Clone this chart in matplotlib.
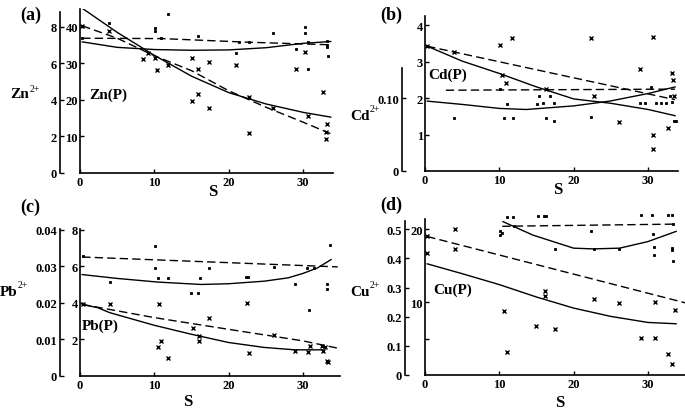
import matplotlib
matplotlib.use("Agg")
import matplotlib.pyplot as plt

plt.rcParams['font.family'] = ['Liberation Serif', 'DejaVu Serif']

W, H = 685, 414

# ---------------- (a) Zn ----------------
# Zn2+ (outer axis), Zn(P) (inner axis)
zn_ion_fit_s = [0.3, 5, 10, 15, 20, 25, 30, 33.7]
zn_ion_fit = [7.18, 6.88, 6.76, 6.72, 6.74, 6.86, 7.10, 7.20]
zn_ion_mix_s = [0.3, 11, 22.7, 33.7]
zn_ion_mix = [7.38, 7.36, 7.16, 7.02]
zn_ion_pts_s = [0.3, 3.9, 10.1, 10.1, 11.8, 10.9, 15.9, 21.4, 22.7, 26.0, 29.0,
                30.3, 30.3, 30.7, 30.6, 33.2, 33.2, 33.3, 21.0, 33.2]
zn_ion_pts = [7.38, 8.22, 7.92, 7.76, 8.68, 7.38, 7.48, 7.16, 7.16, 7.66, 6.8,
              7.98, 7.66, 7.18, 5.72, 7.24, 7.02, 6.42, 6.56, 6.9]

zn_p_fit_s = [0.3, 5, 10, 15, 20, 25, 30, 33.7]
zn_p_fit = [45.1, 38.5, 32.2, 26.5, 22.0, 18.9, 16.6, 15.3]
zn_p_mix_s = [0.3, 5, 10, 15, 20, 25, 30, 34.1]
zn_p_mix = [40.3, 36.9, 32.1, 28.0, 22.5, 18.0, 13.9, 10.4]
zn_p_pts_s = [0.3, 3.9, 8.5, 9.2, 10.1, 10.4, 11.8, 15.0, 15.9, 17.4, 15.0, 15.9,
              17.4, 21.0, 22.7, 22.7, 26.0, 29.0, 30.3, 30.6, 32.6, 33.2, 33.0, 33.0]
zn_p_pts = [40.3, 39.0, 31.2, 32.8, 31.5, 28.2, 29.6, 31.4, 28.6, 30.5, 19.8, 21.7,
            17.9, 29.5, 20.9, 11.0, 17.7, 28.6, 33.2, 15.7, 22.1, 13.4, 11.1, 9.3]

# ---------------- (b) Cd ----------------
cd_ion_fit_s = [0.3, 5, 10, 13.6, 20, 24.8, 30, 33.6]
cd_ion_fit = [0.096, 0.0915, 0.086, 0.0845, 0.0895, 0.096, 0.1065, 0.1155]
cd_ion_mix_s = [2.8, 33.6]
cd_ion_mix = [0.111, 0.1125]
cd_ion_pts_s = [3.9, 10.1, 11.0, 10.6, 11.8, 15.0, 15.3, 15.9, 16.2, 16.8, 17.3, 17.3,
                22.3, 28.9, 29.6, 30.4, 31.0, 31.7, 32.4, 32.9, 33.2, 33.4, 33.7]
cd_ion_pts = [0.073, 0.113, 0.0915, 0.073, 0.073, 0.0925, 0.103, 0.0935, 0.073, 0.103,
              0.0935, 0.0685, 0.074, 0.0935, 0.0935, 0.1155, 0.0935, 0.0935, 0.0935,
              0.103, 0.0945, 0.0685, 0.0685]

cd_p_fit_s = [0.3, 5, 10, 15, 20, 25, 30, 33.6]
cd_p_fit = [3.43, 3.02, 2.68, 2.31, 1.98, 1.86, 1.69, 1.52]
cd_p_mix_s = [0.3, 33.6]
cd_p_mix = [3.43, 1.96]
cd_p_pts_s = [0.3, 3.9, 10.1, 11.7, 10.4, 10.9, 22.3, 22.7, 28.9, 30.6, 30.6, 30.6,
              33.2, 33.3, 32.6, 26.1, 16.2, 33.4]
cd_p_pts = [3.43, 3.26, 3.46, 3.66, 2.65, 2.42, 3.66, 2.06, 2.81, 3.68, 1.0, 0.61,
            2.70, 2.5, 1.19, 1.34, 2.26, 2.06]

# ---------------- (c) Pb ----------------
pb_ion_fit_s = [0.3, 5.0, 10.5, 16.3, 20, 24.8, 28, 30, 32, 33.8]
pb_ion_fit = [0.0277, 0.02665, 0.02565, 0.025, 0.0252, 0.0259, 0.0268, 0.028, 0.02955, 0.0318]
pb_ion_mix_s = [0.3, 34.7]
pb_ion_mix = [0.0325, 0.0298]
pb_ion_pts_s = [0.4, 4.0, 10.1, 10.1, 10.5, 11.8, 15.0, 15.9, 16.1, 17.3, 22.3, 22.6,
                26.1, 28.9, 30.6, 31.5, 33.2, 33.2, 33.6, 30.8]
pb_ion_pts = [0.0329, 0.02565, 0.0356, 0.0295, 0.0268, 0.0268, 0.02275, 0.02275, 0.0268,
              0.0295, 0.0271, 0.027, 0.0298, 0.025, 0.0295, 0.0295, 0.025, 0.0238,
              0.03585, 0.018]

pb_p_fit_s = [0.3, 2.4, 4, 10, 15, 20, 24.8, 28.9, 32.7]
pb_p_fit = [3.91, 3.73, 3.46, 2.77, 2.28, 1.83, 1.56, 1.43, 1.43]
pb_p_mix_s = [0.3, 10, 20, 30, 34.7]
pb_p_mix = [3.91, 3.19, 2.55, 1.92, 1.52]
pb_p_pts_s = [0.4, 4.0, 10.7, 10.9, 10.5, 11.8, 15.2, 16.0, 16.0, 17.3, 22.5, 22.8,
              26.1, 29.0, 30.7, 30.9, 32.6, 32.7, 33.4, 33.2, 33.0]
pb_p_pts = [3.91, 3.91, 3.95, 1.92, 1.56, 1.01, 2.64, 2.19, 1.92, 3.19, 3.97, 1.25,
            2.23, 1.38, 1.29, 1.65, 1.65, 1.38, 0.74, 0.8, 1.6]

# ---------------- (d) Cu ----------------
cu_ion_fit_s = [10.5, 14.5, 20, 22.6, 26.2, 30, 33.8]
cu_ion_fit = [0.526, 0.48, 0.435, 0.4325, 0.435, 0.4575, 0.4925]
cu_ion_mix_s = [10.4, 33.8]
cu_ion_mix = [0.51, 0.5175]
cu_ion_pts_s = [10.1, 10.1, 10.4, 11.1, 11.8, 15.2, 16.0, 16.3, 17.5, 22.4, 22.7, 26.1,
                29.1, 30.6, 30.7, 30.8, 30.8, 32.7, 33.2, 33.2, 33.3, 33.4, 33.4, 12.0]
cu_ion_pts = [0.4925, 0.48, 0.4875, 0.5425, 0.5425, 0.545, 0.545, 0.545, 0.4325, 0.4925,
              0.4325, 0.4325, 0.55, 0.55, 0.485, 0.4375, 0.4125, 0.55, 0.55, 0.43,
              0.435, 0.3925, 0.5175, 0.51]

cu_p_fit_s = [0.3, 5, 10, 15, 20, 25, 30, 33.8]
cu_p_fit = [15.25, 13.9, 12.4, 10.7, 9.18, 8.04, 7.21, 7.03]
cu_p_mix_s = [0.3, 35.2]
cu_p_mix = [19.0, 9.86]
cu_p_pts_s = [0.3, 0.3, 4.0, 4.0, 10.6, 11.1, 15.0, 16.2, 16.2, 17.5, 22.8, 26.1,
              29.1, 30.9, 30.9, 33.6, 32.7, 33.3]
cu_p_pts = [19.0, 16.7, 20.0, 17.3, 8.8, 3.1, 6.7, 11.5, 10.8, 6.3, 10.4, 9.86,
            5.07, 9.95, 5.07, 8.95, 2.9, 1.5]

fig = plt.figure(figsize=(W / 100, H / 100), dpi=100)

DASH = (0, (6, 3))
LW = 1.0


def panel(box, xmax, in_lim, in_ticks, in_labels, out_lim, out_top, out_ticks,
          out_labels, offset):
    l, t, r, b = box
    ax = fig.add_axes([l / W, 1 - b / H, (r - l) / W, (b - t) / H])
    ax.set_xlim(0, xmax)
    ax.set_ylim(*in_lim)
    for sp in ('top', 'right'):
        ax.spines[sp].set_visible(False)
    for sp in ('left', 'bottom'):
        ax.spines[sp].set_linewidth(1.2)
    ax.set_xticks([0, 10, 20, 30])
    ax.set_yticks(in_ticks)
    ax.set_yticklabels(in_labels)
    ax.tick_params(direction='in', length=3, width=1, labelsize=9, pad=2)
    ax.tick_params(axis='y', pad=1.5)
    for lab in ax.get_xticklabels() + ax.get_yticklabels():
        lab.set_fontweight('bold')

    ax2 = ax.twinx()
    for sp in ('top', 'right', 'bottom'):
        ax2.spines[sp].set_visible(False)
    ax2.spines['left'].set_visible(True)
    ax2.spines['left'].set_linewidth(1.2)
    ax2.spines['left'].set_position(('outward', offset * 0.72))
    ax2.spines['left'].set_bounds(0, out_top)
    ax2.yaxis.tick_left()
    ax2.set_ylim(*out_lim)
    ax2.set_yticks(out_ticks)
    ax2.set_yticklabels(out_labels)
    ax2.tick_params(direction='in', length=3, width=1, labelsize=9, pad=2)
    for lab in ax2.get_yticklabels():
        lab.set_fontweight('bold')
    return ax, ax2


def draw(ax, fs, fv, ms, mv, ps, pv, marker):
    ax.plot(fs, fv, '-', color='black', lw=LW)
    ax.plot(ms, mv, color='black', lw=LW, linestyle=DASH)
    if marker == 's':
        ax.plot(ps, pv, 's', color='black', ms=1.9, mew=0.6, clip_on=False)
    else:
        ax.plot(ps, pv, 'x', color='black', ms=2.5, mew=1.0, clip_on=False)


def ftext(x, y, s, size=11, ha='left'):
    fig.text(x / W, 1 - y / H, s, fontsize=size, fontweight='bold', ha=ha, va='center')


def ion(x, y, s):
    # element symbol with a small "2+" superscript
    t = fig.text(x / W, 1 - y / H, s, fontsize=11, fontweight='bold', va='center')
    fig.canvas.draw()
    bb = t.get_window_extent()
    fig.text((bb.x1 + 0.5) / W, 1 - (y - 6) / H, '2+', fontsize=7, va='center')


# (a)
a1, a2 = panel((80, 10, 333, 174), 34, (0, 44.9), [10, 20, 30, 40],
               ['10', '20', '30', '40'], (0, 8.98), 8.82, [0, 2, 4, 6, 8],
               ['0', '2', '4', '6', '8'], 20)
draw(a2, zn_ion_fit_s, zn_ion_fit, zn_ion_mix_s, zn_ion_mix, zn_ion_pts_s, zn_ion_pts, 's')
draw(a1, zn_p_fit_s, zn_p_fit, zn_p_mix_s, zn_p_mix, zn_p_pts_s, zn_p_pts, 'x')

# (b)
b1, b2 = panel((425, 17, 678, 172), 34, (0, 4.26), [1, 2, 3, 4],
               ['1', '2', '3', '4'], (0, 0.213), 0.141, [0, 0.10],
               ['0', '0.10'], 23)
draw(b2, cd_ion_fit_s, cd_ion_fit, cd_ion_mix_s, cd_ion_mix, cd_ion_pts_s, cd_ion_pts, 's')
draw(b1, cd_p_fit_s, cd_p_fit, cd_p_mix_s, cd_p_mix, cd_p_pts_s, cd_p_pts, 'x')

# (c)
c1, c2 = panel((80, 230, 340, 377), 35, (0, 8.03), [2, 4, 6, 8],
               ['2', '4', '6', '8'], (0, 0.04015), 0.0401,
               [0, 0.01, 0.02, 0.03, 0.04], ['0', '0.01', '0.02', '0.03', '0.04'], 20)
draw(c2, pb_ion_fit_s, pb_ion_fit, pb_ion_mix_s, pb_ion_mix, pb_ion_pts_s, pb_ion_pts, 's')
draw(c1, pb_p_fit_s, pb_p_fit, pb_p_mix_s, pb_p_mix, pb_p_pts_s, pb_p_pts, 'x')

# (d)
d1, d2 = panel((425, 220, 685, 376), 35, (0, 21.4), [5, 10, 20],
               ['', '10', '20'], (0, 0.535), 0.528,
               [0, 0.1, 0.2, 0.3, 0.4, 0.5], ['0', '0.1', '0.2', '0.3', '0.4', '0.5'], 20)
draw(d2, cu_ion_fit_s, cu_ion_fit, cu_ion_mix_s, cu_ion_mix, cu_ion_pts_s, cu_ion_pts, 's')
draw(d1, cu_p_fit_s, cu_p_fit, cu_p_mix_s, cu_p_mix, cu_p_pts_s, cu_p_pts, 'x')

# labels
ftext(20, 15, '(a)', 13)
ftext(380, 15, '(b)', 13)
ftext(20, 207, '(c)', 13)
ftext(380, 205, '(d)', 13)

ion(10, 95, 'Zn')
ftext(89, 95, 'Zn(P)')
ion(350, 116, 'Cd')
ftext(428, 75, 'Cd(P)')
ion(0, 292, 'Pb')
ftext(82, 326, 'Pb(P)')
ion(350, 292, 'Cu')
ftext(433, 290, 'Cu(P)')

ftext(213, 192, 'S', 12, ha='center')
ftext(558, 190, 'S', 12, ha='center')
ftext(188, 402, 'S', 12, ha='center')
ftext(560, 403, 'S', 12, ha='center')

fig.savefig('out.png', dpi=100)
